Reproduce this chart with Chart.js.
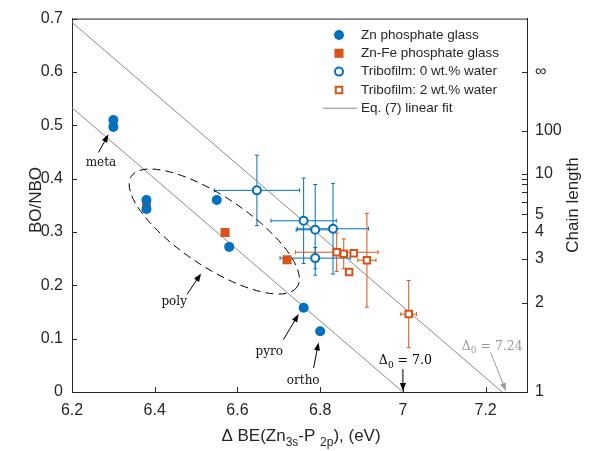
<!DOCTYPE html>
<html>
<head>
<meta charset="utf-8">
<script src="https://cdn.jsdelivr.net/npm/chart.js@4.4.1/dist/chart.umd.min.js"></script>
<style>
  html, body { margin: 0; padding: 0; background: #fff; }
</style>
</head>
<body>
<canvas id="chart" width="598" height="451"></canvas>
<script>
// ─── Data ─────────────────────────────────────────────────────────────────────
const xTicks      = [6.2, 6.4, 6.6, 6.8, 7.0, 7.2];
const xTickLabels = ['6.2', '6.4', '6.6', '6.8', '7', '7.2'];
const yTicks      = [0, 0.1, 0.2, 0.3, 0.4, 0.5, 0.6, 0.7];
const yTickLabels = ['0', '0.1', '0.2', '0.3', '0.4', '0.5', '0.6', '0.7'];

// chain length n sits at BO/NBO = (n-1)/(2n+2); "∞" is put at 0.6
const chainTicks  = [0, 0.167, 0.25, 0.3, 0.333, 0.357, 0.375, 0.389, 0.4, 0.409, 0.49, 0.6];
const chainLabels = ['1', '2', '3', '4', '5', '', '', '', '', '10', '100', '\u221E'];

const znX   = [6.30, 6.30, 6.38, 6.38, 6.55, 6.58, 6.76, 6.80];
const znY   = [0.510, 0.497, 0.360, 0.343, 0.360, 0.272, 0.158, 0.114];

const znFeX = [6.38, 6.57, 6.72];
const znFeY = [0.350, 0.299, 0.248];

const tribo0X    = [6.647, 6.760, 6.788, 6.831, 6.788];
const tribo0Y    = [0.378, 0.321, 0.304, 0.306, 0.251];
const tribo0XErr = [0.103, 0.079, 0.046, 0.086, 0.085];
const tribo0YErr = [0.066, 0.080, 0.085, 0.085, 0.020];

const tribo2X    = [6.840, 6.857, 6.881, 6.870, 6.913, 7.014];
const tribo2Y    = [0.262, 0.259, 0.260, 0.225, 0.247, 0.146];
const tribo2XErr = [0.100, 0, 0, 0, 0.022, 0.019];
const tribo2YErr = [0.036, 0.028, 0, 0, 0.088, 0.063];

// Eq. (7) fit lines, Δ0 = 7.0 and Δ0 = 7.24
const fitLowX  = [6.2, 7.0];
const fitLowY  = [0.533, 0];
const fitHighX = [6.2, 7.24];
const fitHighY = [0.693, 0];

// ─── Styles ───────────────────────────────────────────────────────────────────
const BLUE   = '#0072BD';
const ORANGE = '#D95319';
const AXIS   = '#262626';
const FIT    = '#8a8a8a';
const SANS   = '"Liberation Sans", Arial, sans-serif';
const SERIF  = '"DejaVu Serif", serif';

const toXY = (xs, ys) => xs.map((x, i) => ({ x, y: ys[i] }));

// annotation text + arrows (data coordinates)
const notes = [
  { text: 'meta',  x: 6.270, y: 0.429, from: [6.264, 0.449], to: [6.288, 0.483] },
  { text: 'poly',  x: 6.447, y: 0.169, from: [6.478, 0.183], to: [6.512, 0.222] },
  { text: 'pyro',  x: 6.677, y: 0.076, from: [6.711, 0.098], to: [6.748, 0.146] },
  { text: 'ortho', x: 6.759, y: 0.020, from: [6.784, 0.045], to: [6.796, 0.093] }
];
const deltaNotes = [
  { value: '7.0',  x: 7.006, y: 0.062, from: [7.0, 0.043],   to: [7.0, 0.002],   color: '#000' },
  { value: '7.24', x: 7.216, y: 0.089, from: [7.212, 0.074], to: [7.249, 0.002], color: '#9a9a9a' }
];
const polyEllipse = { ends: [[6.3436, 0.4046], [6.7443, 0.197]], minor: 35 };

// ─── Helpers ──────────────────────────────────────────────────────────────────
function arrow(ctx, x1, y1, x2, y2, color) {
  const a = Math.atan2(y2 - y1, x2 - x1), L = 8, W = 3;
  ctx.save();
  ctx.strokeStyle = color; ctx.fillStyle = color; ctx.lineWidth = 1;
  ctx.beginPath();
  ctx.moveTo(x1, y1);
  ctx.lineTo(x2 - L * 0.7 * Math.cos(a), y2 - L * 0.7 * Math.sin(a));
  ctx.stroke();
  ctx.beginPath();
  ctx.moveTo(x2, y2);
  ctx.lineTo(x2 - L * Math.cos(a) + W * Math.sin(a), y2 - L * Math.sin(a) - W * Math.cos(a));
  ctx.lineTo(x2 - L * Math.cos(a) - W * Math.sin(a), y2 - L * Math.sin(a) + W * Math.cos(a));
  ctx.closePath();
  ctx.fill();
  ctx.restore();
}

function errorBars(ctx, sx, sy, xs, ys, xe, ye, color) {
  ctx.save();
  ctx.strokeStyle = color; ctx.lineWidth = 1;
  const seg = (a, b, c, d) => { ctx.beginPath(); ctx.moveTo(a, b); ctx.lineTo(c, d); ctx.stroke(); };
  xs.forEach((x, i) => {
    const px = sx.getPixelForValue(x), py = sy.getPixelForValue(ys[i]);
    if (ye[i]) {
      const t = sy.getPixelForValue(ys[i] + ye[i]), b = sy.getPixelForValue(ys[i] - ye[i]);
      seg(px, t, px, b); seg(px - 2, t, px + 2, t); seg(px - 2, b, px + 2, b);
    }
    if (xe[i]) {
      const l = sx.getPixelForValue(x - xe[i]), r = sx.getPixelForValue(x + xe[i]);
      seg(l, py, r, py); seg(l, py - 2, l, py + 2); seg(r, py - 2, r, py + 2);
    }
  });
  ctx.restore();
}

// text with subscripts: parts = [[text, isSub], ...]
function richText(ctx, parts, cx, y, size, family, color) {
  const sub = Math.round(size * 0.72);
  ctx.save();
  ctx.fillStyle = color; ctx.textBaseline = 'alphabetic'; ctx.textAlign = 'left';
  let w = 0;
  parts.forEach(([t, s]) => { ctx.font = `${s ? sub : size}px ${family}`; w += ctx.measureText(t).width; });
  let x = cx - w / 2;
  parts.forEach(([t, s]) => {
    ctx.font = `${s ? sub : size}px ${family}`;
    ctx.fillText(t, x, s ? y + size * 0.3 : y);
    x += ctx.measureText(t).width;
  });
  ctx.restore();
}

// ─── Plugins ──────────────────────────────────────────────────────────────────
const errorBarPlugin = {
  id: 'errorBars',
  beforeDatasetsDraw(chart) {
    const { ctx, scales: { x, y } } = chart;
    errorBars(ctx, x, y, tribo0X, tribo0Y, tribo0XErr, tribo0YErr, BLUE);
    errorBars(ctx, x, y, tribo2X, tribo2Y, tribo2XErr, tribo2YErr, ORANGE);
  }
};

const decorPlugin = {
  id: 'decor',
  afterDraw(chart) {
    const { ctx, chartArea: ca, scales: { x, y, y2 } } = chart;
    ctx.save();

    // box top + inward ticks
    ctx.strokeStyle = AXIS; ctx.lineWidth = 1;
    ctx.beginPath(); ctx.moveTo(ca.left, ca.top + 0.5); ctx.lineTo(ca.right, ca.top + 0.5); ctx.stroke();
    x.ticks.forEach(t => {
      const p = Math.round(x.getPixelForValue(t.value)) + 0.5;
      ctx.beginPath(); ctx.moveTo(p, ca.bottom); ctx.lineTo(p, ca.bottom - 5); ctx.stroke();
    });
    y.ticks.forEach(t => {
      const p = Math.round(y.getPixelForValue(t.value)) + 0.5;
      ctx.beginPath(); ctx.moveTo(ca.left, p); ctx.lineTo(ca.left + 5, p); ctx.stroke();
    });
    y2.ticks.forEach(t => {
      const p = Math.round(y2.getPixelForValue(t.value)) + 0.5;
      ctx.beginPath(); ctx.moveTo(ca.right, p); ctx.lineTo(ca.right - 5, p); ctx.stroke();
    });

    // dashed ellipse around "poly"
    const [e1, e2] = polyEllipse.ends;
    const p1 = [x.getPixelForValue(e1[0]), y.getPixelForValue(e1[1])];
    const p2 = [x.getPixelForValue(e2[0]), y.getPixelForValue(e2[1])];
    ctx.strokeStyle = '#000'; ctx.setLineDash([8, 5]);
    ctx.beginPath();
    ctx.ellipse((p1[0] + p2[0]) / 2, (p1[1] + p2[1]) / 2,
      Math.hypot(p2[0] - p1[0], p2[1] - p1[1]) / 2, polyEllipse.minor,
      Math.atan2(p2[1] - p1[1], p2[0] - p1[0]), 0, Math.PI * 2);
    ctx.stroke();
    ctx.setLineDash([]);

    // annotations
    ctx.font = `12px ${SERIF}`; ctx.fillStyle = '#111';
    ctx.textAlign = 'center'; ctx.textBaseline = 'middle';
    notes.forEach(n => {
      ctx.fillText(n.text, x.getPixelForValue(n.x), y.getPixelForValue(n.y));
      arrow(ctx, x.getPixelForValue(n.from[0]), y.getPixelForValue(n.from[1]),
        x.getPixelForValue(n.to[0]), y.getPixelForValue(n.to[1]), '#000');
    });
    deltaNotes.forEach(n => {
      richText(ctx, [['\u0394', false], ['0', true], [' = ' + n.value, false]],
        x.getPixelForValue(n.x), y.getPixelForValue(n.y) + 5, 12.5, SERIF, n.color);
      arrow(ctx, x.getPixelForValue(n.from[0]), y.getPixelForValue(n.from[1]),
        x.getPixelForValue(n.to[0]), y.getPixelForValue(n.to[1]), n.color);
    });

    // legend
    const items = chart.data.datasets.slice(0, 5);
    const mx = 339, tx = 361, ty = 35, dy = 18.3;
    ctx.font = `13.5px ${SANS}`; ctx.textAlign = 'left'; ctx.textBaseline = 'middle';
    items.forEach((ds, i) => {
      const yy = ty + i * dy;
      if (ds.showLine) {
        ctx.strokeStyle = ds.borderColor; ctx.lineWidth = ds.borderWidth;
        ctx.beginPath(); ctx.moveTo(323, yy); ctx.lineTo(357, yy); ctx.stroke();
      } else {
        ctx.fillStyle = ds.backgroundColor; ctx.strokeStyle = ds.borderColor;
        ctx.lineWidth = ds.borderWidth;
        Chart.helpers.drawPoint(ctx, { pointStyle: ds.pointStyle, radius: ds.pointRadius,
          borderWidth: ds.borderWidth, rotation: 0 }, mx, yy);
      }
      ctx.fillStyle = AXIS;
      ctx.fillText(ds.label, tx, yy);
    });

    // axis titles
    ctx.fillStyle = AXIS; ctx.font = `17px ${SANS}`; ctx.textAlign = 'center';
    ctx.textBaseline = 'alphabetic';
    ctx.save(); ctx.translate(41, 200); ctx.rotate(-Math.PI / 2); ctx.fillText('BO/NBO', 0, 0); ctx.restore();
    ctx.save(); ctx.translate(578, 205); ctx.rotate(-Math.PI / 2); ctx.fillText('Chain length', 0, 0); ctx.restore();
    richText(ctx, [['\u0394 BE(Zn', false], ['3s', true], ['-P ', false], ['2p', true], ['), (eV)', false]],
      301, 441, 17, SANS, AXIS);

    ctx.restore();
  }
};

// ─── Chart ────────────────────────────────────────────────────────────────────
const tickFont = { family: SANS, size: 16 };

new Chart(document.getElementById('chart').getContext('2d'), {
  type: 'scatter',
  data: {
    datasets: [
      { label: 'Zn phosphate glass', data: toXY(znX, znY), pointStyle: 'circle', pointRadius: 5,
        backgroundColor: BLUE, borderColor: BLUE, borderWidth: 0 },
      { label: 'Zn-Fe phosphate glass', data: toXY(znFeX, znFeY), pointStyle: 'rect', pointRadius: 6.4,
        backgroundColor: ORANGE, borderColor: ORANGE, borderWidth: 0 },
      { label: 'Tribofilm: 0 wt.% water', data: toXY(tribo0X, tribo0Y), pointStyle: 'circle', pointRadius: 4,
        backgroundColor: '#fff', borderColor: BLUE, borderWidth: 2 },
      { label: 'Tribofilm: 2 wt.% water', data: toXY(tribo2X, tribo2Y), pointStyle: 'rect', pointRadius: 4.6,
        backgroundColor: '#fff', borderColor: ORANGE, borderWidth: 2 },
      { label: 'Eq. (7) linear fit', data: toXY(fitLowX, fitLowY), showLine: true, pointRadius: 0,
        borderColor: FIT, borderWidth: 1 },
      { label: 'Eq. (7) linear fit', data: toXY(fitHighX, fitHighY), showLine: true, pointRadius: 0,
        borderColor: FIT, borderWidth: 1 }
    ]
  },
  options: {
    responsive: false,
    animation: false,
    layout: { padding: { top: 15, left: 0, right: 0, bottom: 0 } },
    plugins: { legend: { display: false }, tooltip: { enabled: false } },
    scales: {
      x: {
        type: 'linear', position: 'bottom', min: 6.2, max: 7.3,
        afterBuildTicks: s => { s.ticks = xTicks.map(v => ({ value: v })); },
        afterFit: s => { s.height = 59; },
        grid: { display: false, drawTicks: false },
        border: { display: true, color: AXIS, width: 1 },
        ticks: { color: AXIS, font: tickFont, padding: 9, maxRotation: 0, autoSkip: false,
          callback: (v, i) => xTickLabels[i] }
      },
      y: {
        type: 'linear', position: 'left', min: 0, max: 0.7,
        afterBuildTicks: s => { s.ticks = yTicks.map(v => ({ value: v })); },
        afterFit: s => { s.width = 72; },
        grid: { display: false, drawTicks: false },
        border: { display: true, color: AXIS, width: 1 },
        ticks: { color: AXIS, font: tickFont, padding: 9, autoSkip: false,
          callback: (v, i) => yTickLabels[i] }
      },
      y2: {
        type: 'linear', position: 'right', min: 0, max: 0.7,
        afterBuildTicks: s => { s.ticks = chainTicks.map(v => ({ value: v })); },
        afterFit: s => { s.width = 71; },
        grid: { display: false, drawTicks: false },
        border: { display: true, color: AXIS, width: 1 },
        ticks: { color: AXIS, font: tickFont, padding: 8, autoSkip: false,
          callback: (v, i) => chainLabels[i] }
      }
    }
  },
  plugins: [errorBarPlugin, decorPlugin]
});
</script>
</body>
</html>
